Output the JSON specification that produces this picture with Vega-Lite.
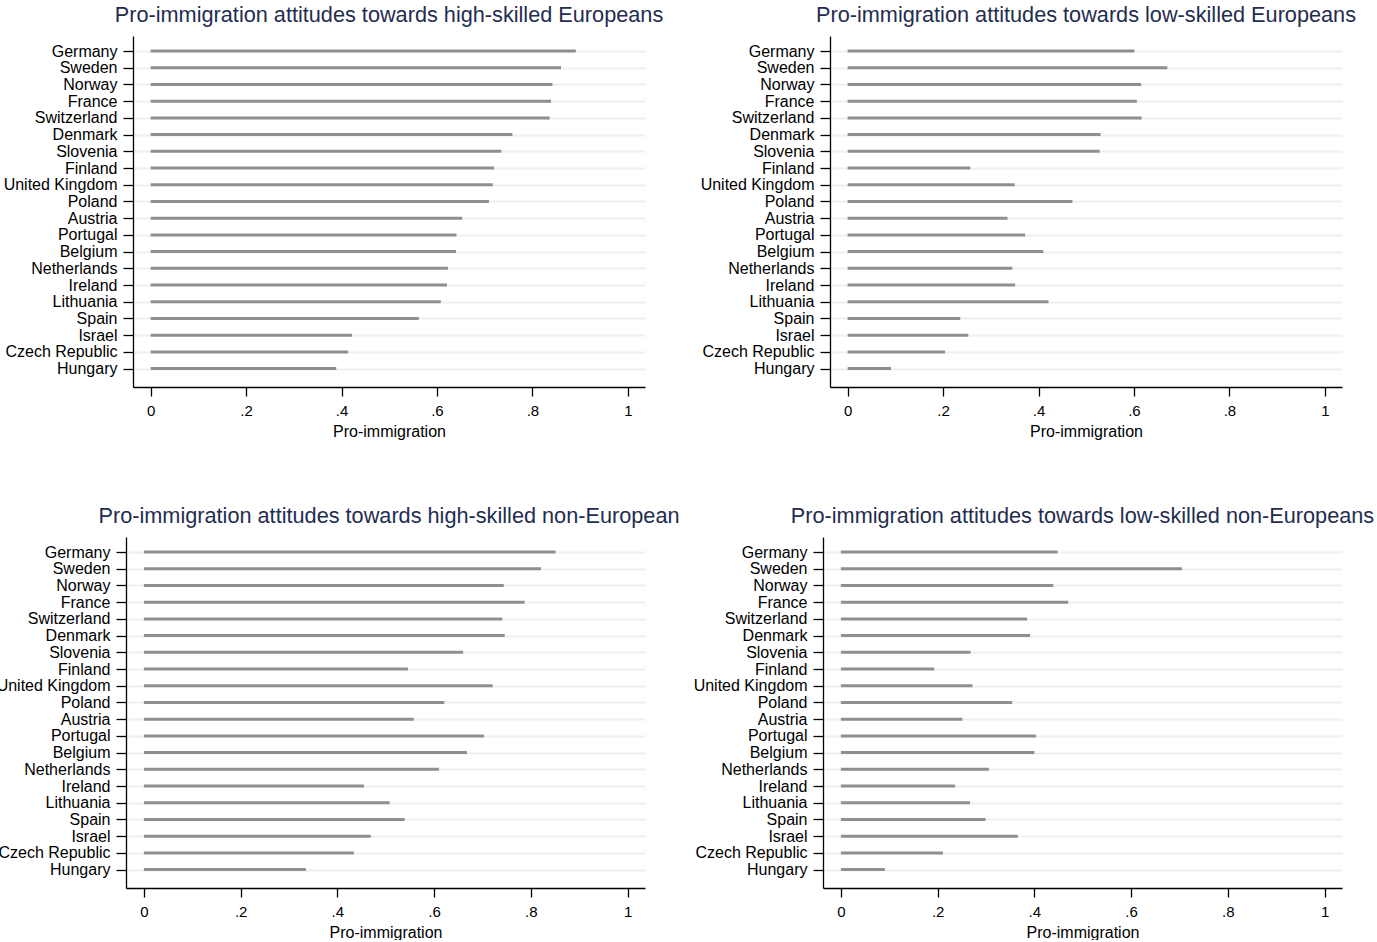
{
  "$schema": "https://vega.github.io/schema/vega-lite/v6.json",
  "padding": {"left": -11, "top": 5, "right": 0, "bottom": 0},
  "background": "white",
  "config": {
    "font": "Liberation Sans",
    "view": {"stroke": null},
    "title": {"fontSize": 21.7, "color": "#1f2d50", "fontWeight": "normal", "font": "Liberation Sans", "baseline": "alphabetic", "offset": 9, "anchor": "middle", "frame": "group"},
    "axisX": {
      "grid": false,
      "domainColor": "black", "domainWidth": 1.3,
      "tickColor": "black", "tickWidth": 1.3, "tickSize": 9,
      "labelPadding": 7, "labelFontSize": 15, "labelColor": "black", "labelFlush": false, "labelOverlap": false,
      "titleFontSize": 16, "titleFontWeight": "normal", "titleColor": "black", "titlePadding": 5
    },
    "axisY": {
      "grid": true, "gridColor": "#e9f1f3", "gridWidth": 2,
      "domainColor": "black", "domainWidth": 1.3,
      "tickColor": "black", "tickWidth": 1.3, "tickSize": 10,
      "labelPadding": 6, "labelFontSize": 16, "labelColor": "black", "labelOverlap": false
    }
  },
  "data": {"values": [
    {"panel": "hsE", "country": "Germany", "value": 0.891},
    {"panel": "hsE", "country": "Sweden", "value": 0.860},
    {"panel": "hsE", "country": "Norway", "value": 0.842},
    {"panel": "hsE", "country": "France", "value": 0.839},
    {"panel": "hsE", "country": "Switzerland", "value": 0.836},
    {"panel": "hsE", "country": "Denmark", "value": 0.758},
    {"panel": "hsE", "country": "Slovenia", "value": 0.735},
    {"panel": "hsE", "country": "Finland", "value": 0.720},
    {"panel": "hsE", "country": "United Kingdom", "value": 0.717},
    {"panel": "hsE", "country": "Poland", "value": 0.709},
    {"panel": "hsE", "country": "Austria", "value": 0.653},
    {"panel": "hsE", "country": "Portugal", "value": 0.641},
    {"panel": "hsE", "country": "Belgium", "value": 0.640},
    {"panel": "hsE", "country": "Netherlands", "value": 0.623},
    {"panel": "hsE", "country": "Ireland", "value": 0.621},
    {"panel": "hsE", "country": "Lithuania", "value": 0.608},
    {"panel": "hsE", "country": "Spain", "value": 0.562},
    {"panel": "hsE", "country": "Israel", "value": 0.422},
    {"panel": "hsE", "country": "Czech Republic", "value": 0.414},
    {"panel": "hsE", "country": "Hungary", "value": 0.389},
    {"panel": "lsE", "country": "Germany", "value": 0.601},
    {"panel": "lsE", "country": "Sweden", "value": 0.670},
    {"panel": "lsE", "country": "Norway", "value": 0.615},
    {"panel": "lsE", "country": "France", "value": 0.606},
    {"panel": "lsE", "country": "Switzerland", "value": 0.616},
    {"panel": "lsE", "country": "Denmark", "value": 0.530},
    {"panel": "lsE", "country": "Slovenia", "value": 0.528},
    {"panel": "lsE", "country": "Finland", "value": 0.257},
    {"panel": "lsE", "country": "United Kingdom", "value": 0.350},
    {"panel": "lsE", "country": "Poland", "value": 0.471},
    {"panel": "lsE", "country": "Austria", "value": 0.335},
    {"panel": "lsE", "country": "Portugal", "value": 0.372},
    {"panel": "lsE", "country": "Belgium", "value": 0.410},
    {"panel": "lsE", "country": "Netherlands", "value": 0.345},
    {"panel": "lsE", "country": "Ireland", "value": 0.351},
    {"panel": "lsE", "country": "Lithuania", "value": 0.421},
    {"panel": "lsE", "country": "Spain", "value": 0.236},
    {"panel": "lsE", "country": "Israel", "value": 0.253},
    {"panel": "lsE", "country": "Czech Republic", "value": 0.204},
    {"panel": "lsE", "country": "Hungary", "value": 0.091},
    {"panel": "hsN", "country": "Germany", "value": 0.851},
    {"panel": "hsN", "country": "Sweden", "value": 0.821},
    {"panel": "hsN", "country": "Norway", "value": 0.744},
    {"panel": "hsN", "country": "France", "value": 0.787},
    {"panel": "hsN", "country": "Switzerland", "value": 0.741},
    {"panel": "hsN", "country": "Denmark", "value": 0.746},
    {"panel": "hsN", "country": "Slovenia", "value": 0.660},
    {"panel": "hsN", "country": "Finland", "value": 0.546},
    {"panel": "hsN", "country": "United Kingdom", "value": 0.721},
    {"panel": "hsN", "country": "Poland", "value": 0.621},
    {"panel": "hsN", "country": "Austria", "value": 0.558},
    {"panel": "hsN", "country": "Portugal", "value": 0.703},
    {"panel": "hsN", "country": "Belgium", "value": 0.668},
    {"panel": "hsN", "country": "Netherlands", "value": 0.610},
    {"panel": "hsN", "country": "Ireland", "value": 0.455},
    {"panel": "hsN", "country": "Lithuania", "value": 0.508},
    {"panel": "hsN", "country": "Spain", "value": 0.539},
    {"panel": "hsN", "country": "Israel", "value": 0.469},
    {"panel": "hsN", "country": "Czech Republic", "value": 0.434},
    {"panel": "hsN", "country": "Hungary", "value": 0.335},
    {"panel": "lsN", "country": "Germany", "value": 0.448},
    {"panel": "lsN", "country": "Sweden", "value": 0.705},
    {"panel": "lsN", "country": "Norway", "value": 0.439},
    {"panel": "lsN", "country": "France", "value": 0.470},
    {"panel": "lsN", "country": "Switzerland", "value": 0.385},
    {"panel": "lsN", "country": "Denmark", "value": 0.391},
    {"panel": "lsN", "country": "Slovenia", "value": 0.268},
    {"panel": "lsN", "country": "Finland", "value": 0.193},
    {"panel": "lsN", "country": "United Kingdom", "value": 0.272},
    {"panel": "lsN", "country": "Poland", "value": 0.354},
    {"panel": "lsN", "country": "Austria", "value": 0.251},
    {"panel": "lsN", "country": "Portugal", "value": 0.403},
    {"panel": "lsN", "country": "Belgium", "value": 0.400},
    {"panel": "lsN", "country": "Netherlands", "value": 0.306},
    {"panel": "lsN", "country": "Ireland", "value": 0.236},
    {"panel": "lsN", "country": "Lithuania", "value": 0.267},
    {"panel": "lsN", "country": "Spain", "value": 0.299},
    {"panel": "lsN", "country": "Israel", "value": 0.366},
    {"panel": "lsN", "country": "Czech Republic", "value": 0.211},
    {"panel": "lsN", "country": "Hungary", "value": 0.091}
  ]},
  "columns": 1,
  "align": "none",
  "spacing": 67,
  "concat": [
    {
      "bounds": "flush",
      "spacing": 185,
      "hconcat": [
        {
          "width": 512, "height": 351,
          "title": "Pro-immigration attitudes towards high-skilled Europeans",
          "transform": [{"filter": "datum.panel === 'hsE'"}],
          "mark": {"type": "rule", "color": "#8f8f8f", "strokeWidth": 3},
          "encoding": {
            "y": {"field": "country", "type": "nominal", "sort": ["Germany","Sweden","Norway","France","Switzerland","Denmark","Slovenia","Finland","United Kingdom","Poland","Austria","Portugal","Belgium","Netherlands","Ireland","Lithuania","Spain","Israel","Czech Republic","Hungary"], "scale": {"type": "point", "padding": 1.25, "align": 0.45}, "axis": {"title": null, "minExtent": 144}},
            "x": {"field": "value", "type": "quantitative", "title": "Pro-immigration", "scale": {"domain": [-0.037, 1.036], "nice": false, "zero": false}, "axis": {"values": [0, 0.2, 0.4, 0.6, 0.8, 1], "labelExpr": "datum.value == 0 ? '0' : datum.value == 1 ? '1' : replace(format(datum.value, '.1f'), '0.', '.')"}},
            "x2": {"datum": 0}
          }
        },
        {
          "width": 512, "height": 351,
          "title": "Pro-immigration attitudes towards low-skilled Europeans",
          "transform": [{"filter": "datum.panel === 'lsE'"}],
          "mark": {"type": "rule", "color": "#8f8f8f", "strokeWidth": 3},
          "encoding": {
            "y": {"field": "country", "type": "nominal", "sort": ["Germany","Sweden","Norway","France","Switzerland","Denmark","Slovenia","Finland","United Kingdom","Poland","Austria","Portugal","Belgium","Netherlands","Ireland","Lithuania","Spain","Israel","Czech Republic","Hungary"], "scale": {"type": "point", "padding": 1.25, "align": 0.45}, "axis": {"title": null}},
            "x": {"field": "value", "type": "quantitative", "title": "Pro-immigration", "scale": {"domain": [-0.037, 1.036], "nice": false, "zero": false}, "axis": {"values": [0, 0.2, 0.4, 0.6, 0.8, 1], "labelExpr": "datum.value == 0 ? '0' : datum.value == 1 ? '1' : replace(format(datum.value, '.1f'), '0.', '.')"}},
            "x2": {"datum": 0}
          }
        }
      ]
    },
    {
      "bounds": "flush",
      "spacing": 178,
      "hconcat": [
        {
          "width": 512, "height": 351,
          "title": "Pro-immigration attitudes towards high-skilled non-European",
          "transform": [{"filter": "datum.panel === 'hsN'"}],
          "mark": {"type": "rule", "color": "#8f8f8f", "strokeWidth": 3},
          "encoding": {
            "y": {"field": "country", "type": "nominal", "sort": ["Germany","Sweden","Norway","France","Switzerland","Denmark","Slovenia","Finland","United Kingdom","Poland","Austria","Portugal","Belgium","Netherlands","Ireland","Lithuania","Spain","Israel","Czech Republic","Hungary"], "scale": {"type": "point", "padding": 1.25, "align": 0.45}, "axis": {"title": null, "offset": 7}},
            "x": {"field": "value", "type": "quantitative", "title": "Pro-immigration", "scale": {"domain": [-0.037, 1.036], "range": [-7, 512], "nice": false, "zero": false}, "axis": {"values": [0, 0.2, 0.4, 0.6, 0.8, 1], "labelExpr": "datum.value == 0 ? '0' : datum.value == 1 ? '1' : replace(format(datum.value, '.1f'), '0.', '.')"}},
            "x2": {"datum": 0}
          }
        },
        {
          "width": 519, "height": 351,
          "title": "Pro-immigration attitudes towards low-skilled non-Europeans",
          "transform": [{"filter": "datum.panel === 'lsN'"}],
          "mark": {"type": "rule", "color": "#8f8f8f", "strokeWidth": 3},
          "encoding": {
            "y": {"field": "country", "type": "nominal", "sort": ["Germany","Sweden","Norway","France","Switzerland","Denmark","Slovenia","Finland","United Kingdom","Poland","Austria","Portugal","Belgium","Netherlands","Ireland","Lithuania","Spain","Israel","Czech Republic","Hungary"], "scale": {"type": "point", "padding": 1.25, "align": 0.45}, "axis": {"title": null}},
            "x": {"field": "value", "type": "quantitative", "title": "Pro-immigration", "scale": {"domain": [-0.037, 1.036], "nice": false, "zero": false}, "axis": {"values": [0, 0.2, 0.4, 0.6, 0.8, 1], "labelExpr": "datum.value == 0 ? '0' : datum.value == 1 ? '1' : replace(format(datum.value, '.1f'), '0.', '.')"}},
            "x2": {"datum": 0}
          }
        }
      ]
    }
  ]
}
